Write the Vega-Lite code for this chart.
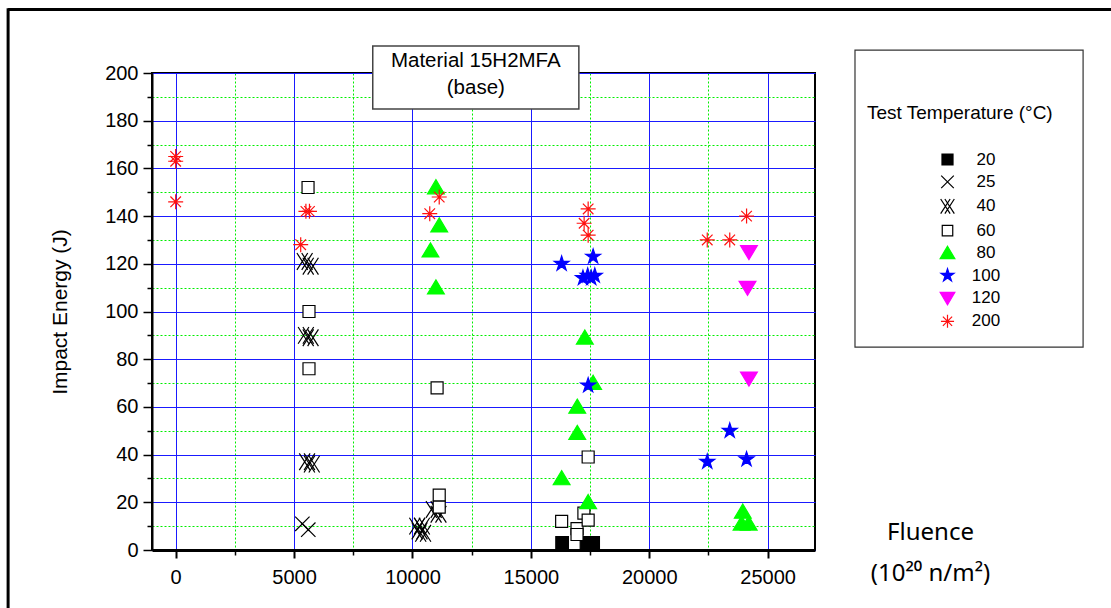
{
  "$schema": "https://vega.github.io/schema/vega-lite/v6.json",
  "width": 663,
  "height": 477,
  "autosize": {"type": "none"},
  "padding": {"left": 152, "top": 73, "right": 296, "bottom": 58},
  "background": "white",
  "config": {
    "font": "Liberation Sans",
    "view": {"stroke": "black", "strokeWidth": 2},
    "axis": {"labelFont": "Liberation Sans", "titleFont": "Liberation Sans", "labelColor": "black", "titleColor": "black", "titleFontWeight": "normal", "tickColor": "black", "domainColor": "black"},
    "legend": {"titleFont": "Liberation Sans", "labelFont": "Liberation Sans", "titleFontWeight": "normal"}
  },
  "datasets": {
    "pts": [
      {"fluence": 16320, "energy": 3, "temp": 20},
      {"fluence": 17350, "energy": 3, "temp": 20},
      {"fluence": 17630, "energy": 3, "temp": 20},
      {"fluence": 5350, "energy": 11, "temp": 25},
      {"fluence": 5600, "energy": 8.5, "temp": 25},
      {"fluence": 5450, "energy": 121, "temp": 40},
      {"fluence": 5700, "energy": 119, "temp": 40},
      {"fluence": 5500, "energy": 90, "temp": 40},
      {"fluence": 5700, "energy": 89, "temp": 40},
      {"fluence": 5550, "energy": 37, "temp": 40},
      {"fluence": 5750, "energy": 36, "temp": 40},
      {"fluence": 10900, "energy": 17, "temp": 40},
      {"fluence": 11100, "energy": 15, "temp": 40},
      {"fluence": 10200, "energy": 10, "temp": 40},
      {"fluence": 10400, "energy": 10, "temp": 40},
      {"fluence": 10300, "energy": 8, "temp": 40},
      {"fluence": 10450, "energy": 7, "temp": 40},
      {"fluence": 5590, "energy": 152, "temp": 60},
      {"fluence": 5630, "energy": 100, "temp": 60},
      {"fluence": 5630, "energy": 76, "temp": 60},
      {"fluence": 11040, "energy": 68, "temp": 60},
      {"fluence": 11130, "energy": 23, "temp": 60},
      {"fluence": 11130, "energy": 18, "temp": 60},
      {"fluence": 17420, "energy": 39, "temp": 60},
      {"fluence": 16300, "energy": 12, "temp": 60},
      {"fluence": 16950, "energy": 9, "temp": 60},
      {"fluence": 16950, "energy": 6.5, "temp": 60},
      {"fluence": 17240, "energy": 15.5, "temp": 60},
      {"fluence": 17420, "energy": 12.5, "temp": 60},
      {"fluence": 10990, "energy": 152, "temp": 80},
      {"fluence": 11130, "energy": 136, "temp": 80},
      {"fluence": 10760, "energy": 125.5, "temp": 80},
      {"fluence": 10990, "energy": 110, "temp": 80},
      {"fluence": 17280, "energy": 89, "temp": 80},
      {"fluence": 17630, "energy": 70, "temp": 80},
      {"fluence": 16960, "energy": 60, "temp": 80},
      {"fluence": 16960, "energy": 49, "temp": 80},
      {"fluence": 16300, "energy": 30, "temp": 80},
      {"fluence": 17420, "energy": 20, "temp": 80},
      {"fluence": 23950, "energy": 16, "temp": 80},
      {"fluence": 23900, "energy": 11, "temp": 80},
      {"fluence": 24200, "energy": 11, "temp": 80},
      {"fluence": 16300, "energy": 120, "temp": 100},
      {"fluence": 17630, "energy": 123, "temp": 100},
      {"fluence": 17200, "energy": 114, "temp": 100},
      {"fluence": 17400, "energy": 115, "temp": 100},
      {"fluence": 17550, "energy": 114, "temp": 100},
      {"fluence": 17700, "energy": 115, "temp": 100},
      {"fluence": 17420, "energy": 69, "temp": 100},
      {"fluence": 23400, "energy": 50, "temp": 100},
      {"fluence": 22450, "energy": 37, "temp": 100},
      {"fluence": 24110, "energy": 38, "temp": 100},
      {"fluence": 24210, "energy": 125, "temp": 120},
      {"fluence": 24150, "energy": 110, "temp": 120},
      {"fluence": 24210, "energy": 72, "temp": 120},
      {"fluence": 0, "energy": 165, "temp": 200},
      {"fluence": 0, "energy": 163, "temp": 200},
      {"fluence": 0, "energy": 146, "temp": 200},
      {"fluence": 5500, "energy": 142, "temp": 200},
      {"fluence": 5650, "energy": 142, "temp": 200},
      {"fluence": 5280, "energy": 128, "temp": 200},
      {"fluence": 10730, "energy": 141, "temp": 200},
      {"fluence": 11130, "energy": 148, "temp": 200},
      {"fluence": 17420, "energy": 143, "temp": 200},
      {"fluence": 17250, "energy": 137, "temp": 200},
      {"fluence": 17420, "energy": 132, "temp": 200},
      {"fluence": 22450, "energy": 130, "temp": 200},
      {"fluence": 23400, "energy": 130, "temp": 200},
      {"fluence": 24110, "energy": 140, "temp": 200}
    ]
  },
  "layer": [
    {
      "data": {"name": "pts"},
      "mark": {"type": "point", "opacity": 0},
      "encoding": {
        "x": {"field": "fluence", "type": "quantitative", "scale": {"domain": [-1000, 27000], "nice": false, "zero": false},
          "axis": {"orient": "bottom", "values": [2500, 7500, 12500, 17500, 22500], "grid": true, "gridColor": "#00ee00", "gridDash": [2, 2], "gridWidth": 1, "labels": false, "ticks": true, "tickSize": 5, "tickWidth": 1.5, "domain": false, "title": null}},
        "y": {"field": "energy", "type": "quantitative", "scale": {"domain": [0, 200], "nice": false, "zero": false},
          "axis": {"orient": "left", "values": [10, 30, 50, 70, 90, 110, 130, 150, 170, 190], "grid": true, "gridColor": "#00ee00", "gridDash": [2, 2], "gridWidth": 1, "labels": false, "ticks": true, "tickSize": 5, "tickWidth": 1.5, "domain": false, "title": null}}
      }
    },
    {
      "data": {"name": "pts"},
      "mark": {"type": "point", "size": 144, "strokeWidth": 1.2, "opacity": 1},
      "encoding": {
        "x": {"field": "fluence", "type": "quantitative", "scale": {"domain": [-1000, 27000], "nice": false, "zero": false},
          "axis": {"orient": "bottom", "values": [0, 5000, 10000, 15000, 20000, 25000], "format": "d", "grid": true, "gridColor": "#1a1aff", "gridWidth": 1, "tickSize": 8, "tickWidth": 2, "labelFontSize": 20, "labelPadding": 9, "domainWidth": 3,
            "title": ["Fluence", "(10²⁰ n/m²)"], "titleFont": "Noto Sans", "titleFontSize": 24, "titleX": 778, "titleY": -30, "titleAlign": "center", "titleBaseline": "top", "titleLineHeight": 41, "titleAngle": 0}},
        "y": {"field": "energy", "type": "quantitative", "scale": {"domain": [0, 200], "nice": false, "zero": false},
          "axis": {"orient": "left", "values": [0, 20, 40, 60, 80, 100, 120, 140, 160, 180, 200], "grid": true, "gridColor": "#1a1aff", "gridWidth": 1, "tickSize": 9, "tickWidth": 1.5, "labelFontSize": 20, "labelPadding": 5, "domainWidth": 2,
            "title": "Impact Energy (J)", "titleFontSize": 21, "titleX": -92, "titleY": 238.5, "titleAlign": "center", "titleBaseline": "middle", "titleAngle": 270}},
        "shape": {"field": "temp", "type": "ordinal", "title": ["", "Test Temperature (°C)"],
          "scale": {"domain": [20, 25, 40, 60, 80, 100, 120, 200],
            "range": [
              "M-1.05,-1.05L1.05,-1.05L1.05,1.05L-1.05,1.05Z",
              "M-1.2,-1.2L1.2,1.2M-1.2,1.2L1.2,-1.2",
              "M-1.3,-1.4L0.5,1.4M-1.3,1.4L0.5,-1.4M-0.5,-1.4L1.3,1.4M-0.5,1.4L1.3,-1.4",
              "M-1,-1L1,-1L1,1L-1,1Z",
              "M0,-1.3L1.4,1.05L-1.4,1.05Z",
              "M0,-1.3L0.292,-0.402L1.236,-0.402L0.472,0.153L0.764,1.052L0,0.497L-0.764,1.052L-0.472,0.153L-1.236,-0.402L-0.292,-0.402Z",
              "M-1.4,-1.05L1.4,-1.05L0,1.3Z",
              "M-1.25,0L1.25,0M0,-1.25L0,1.25M-0.88,-0.88L0.88,0.88M-0.88,0.88L0.88,-0.88"
            ]},
          "legend": {"orient": "none", "legendX": 703, "legendY": -23, "padding": 12, "strokeColor": "transparent",
            "titleFontSize": 19, "titleLineHeight": 42, "titlePadding": 28, "titleLimit": 400, "labelFontSize": 17, "labelAlign": "center", "labelOffset": 30,
            "symbolOffset": 72, "symbolSize": 110, "symbolStrokeWidth": 1.2, "rowPadding": 4.4}},
        "fill": {"field": "temp", "type": "ordinal", "title": ["", "Test Temperature (°C)"],
          "scale": {"domain": [20, 25, 40, 60, 80, 100, 120, 200],
            "range": ["#000000", "transparent", "transparent", "#ffffff", "#00ff00", "#0000ff", "#ff00ff", "transparent"]}},
        "stroke": {"field": "temp", "type": "ordinal", "title": ["", "Test Temperature (°C)"],
          "scale": {"domain": [20, 25, 40, 60, 80, 100, 120, 200],
            "range": ["#000000", "#000000", "#000000", "#000000", "#00ff00", "#0000ff", "#ff00ff", "#ff1010"]}}
      }
    },
    {
      "data": {"values": [{}]},
      "mark": {"type": "rule", "color": "black", "strokeWidth": 3, "clip": false},
      "encoding": {
        "x": {"datum": -7077, "type": "quantitative", "axis": null},
        "x2": {"datum": 60000},
        "y": {"datum": 226.6, "type": "quantitative", "axis": null}
      }
    },
    {
      "data": {"values": [{}]},
      "mark": {"type": "rule", "color": "black", "strokeWidth": 3, "clip": false},
      "encoding": {
        "x": {"datum": -7077, "type": "quantitative", "axis": null},
        "y": {"datum": 227.2, "type": "quantitative", "axis": null},
        "y2": {"datum": -60}
      }
    },
    {
      "data": {"values": [{}]},
      "mark": {"type": "rect", "fill": "transparent", "stroke": "#333333", "strokeWidth": 1.2, "clip": false},
      "encoding": {
        "x": {"datum": 28689, "type": "quantitative", "axis": null},
        "x2": {"datum": 38322},
        "y": {"datum": 209.6, "type": "quantitative", "axis": null},
        "y2": {"datum": 85.1}
      }
    },
    {
      "data": {"values": [{}]},
      "mark": {"type": "rect", "fill": "white", "stroke": "#444444", "strokeWidth": 1.5, "clip": false},
      "encoding": {
        "x": {"datum": 8323, "type": "quantitative", "axis": null},
        "x2": {"datum": 17027},
        "y": {"datum": 211.3, "type": "quantitative", "axis": null},
        "y2": {"datum": 184.9}
      }
    },
    {
      "data": {"values": [{}]},
      "mark": {"type": "text", "font": "Liberation Sans", "fontSize": 20.5, "lineHeight": 27, "baseline": "middle", "align": "center", "color": "black", "clip": false},
      "encoding": {
        "x": {"datum": 12675, "type": "quantitative", "axis": null},
        "y": {"datum": 205, "type": "quantitative", "axis": null},
        "text": {"value": ["Material 15H2MFA", "(base)"]}
      }
    }
  ],
  "resolve": {"axis": {"x": "independent", "y": "independent"}}
}
